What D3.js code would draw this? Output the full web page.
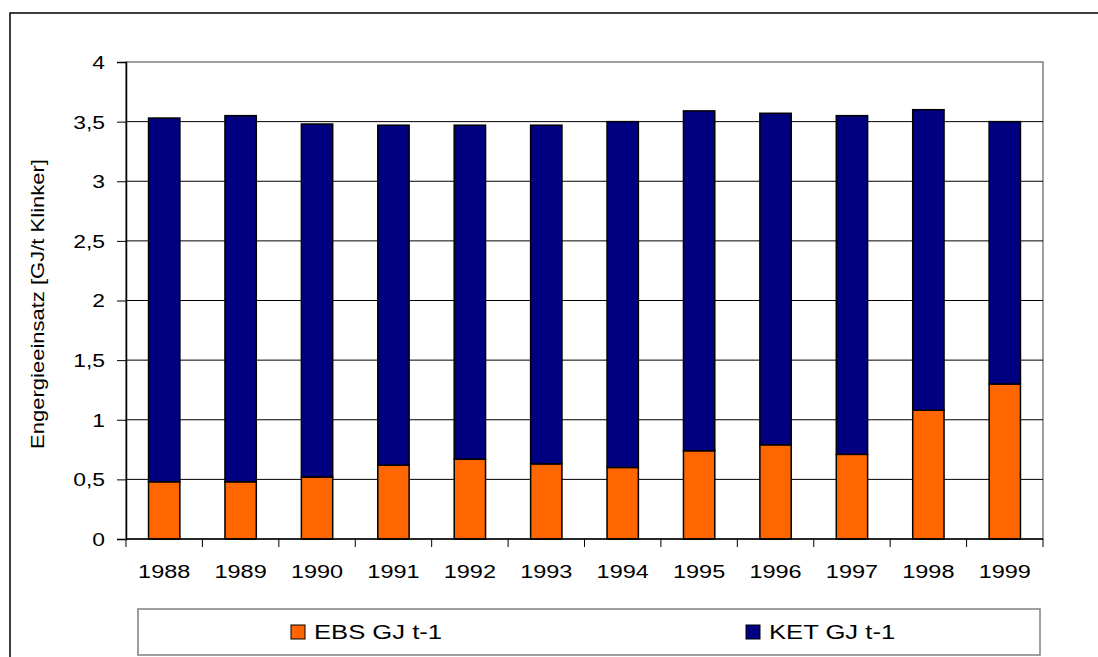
<!DOCTYPE html>
<html>
<head>
<meta charset="utf-8">
<script src="https://cdn.jsdelivr.net/npm/d3@7"></script>
<style>
  body { margin: 0; background: #fff; }
  svg text { font-family: "Liberation Sans", Arial, sans-serif; fill: #000; }
</style>
</head>
<body>
<div id="chart"></div>
<script>
// values (GJ per t clinker)
var years = ["1988","1989","1990","1991","1992","1993","1994","1995","1996","1997","1998","1999"];
var ebs = [0.48, 0.48, 0.52, 0.62, 0.67, 0.63, 0.60, 0.74, 0.79, 0.71, 1.08, 1.30];
var ket = [3.05, 3.07, 2.96, 2.85, 2.80, 2.84, 2.90, 2.85, 2.78, 2.84, 2.52, 2.20];
var yTicks = [0, 0.5, 1, 1.5, 2, 2.5, 3, 3.5, 4];
var seriesNames = ["EBS GJ t-1", "KET GJ t-1"];
var colors = ["#ff6600", "#000080"];

var width = 1098, height = 657;
var plot = {left: 126, right: 1043, top: 62, bottom: 539};
// the original text is drawn a bit wider than Arial, stretch it horizontally
var stretch = 1.27;

var svg = d3.select("#chart").append("svg")
    .attr("width", width)
    .attr("height", height);

// outer frame (runs off the right/bottom edge)
svg.append("rect")
   .attr("x", 10).attr("y", 13)
   .attr("width", width + 20).attr("height", height + 20)
   .attr("fill", "#fff").attr("stroke", "#000").attr("stroke-width", 1.5);

var x = d3.scaleBand()
    .domain(years)
    .range([plot.left, plot.right])
    .paddingInner(0.59)
    .paddingOuter(0.295);

var xTicks = d3.scaleBand().domain(years).range([plot.left, plot.right]);

var y = d3.scaleLinear()
    .domain([0, 4])
    .range([plot.bottom, plot.top]);

// plot area border (gray)
svg.append("rect")
   .attr("x", plot.left).attr("y", plot.top)
   .attr("width", plot.right - plot.left).attr("height", plot.bottom - plot.top)
   .attr("fill", "none").attr("stroke", "#808080").attr("stroke-width", 1.5);

// gridlines
svg.append("g")
   .selectAll("line")
   .data(yTicks.filter(function(d) { return d > 0 && d < 4; }))
   .enter().append("line")
   .attr("x1", plot.left).attr("x2", plot.right)
   .attr("y1", function(d) { return y(d); })
   .attr("y2", function(d) { return y(d); })
   .attr("stroke", "#000").attr("stroke-width", 1);

// stacked bars
var rows = years.map(function(yr, i) { return {year: yr, ebs: ebs[i], ket: ket[i]}; });
var stack = d3.stack().keys(["ebs", "ket"])(rows);

svg.append("g")
   .selectAll("g")
   .data(stack)
   .enter().append("g")
   .attr("fill", function(d, i) { return colors[i]; })
   .selectAll("rect")
   .data(function(d) { return d; })
   .enter().append("rect")
   .attr("x", function(d) { return x(d.data.year); })
   .attr("width", x.bandwidth())
   .attr("y", function(d) { return y(d[1]); })
   .attr("height", function(d) { return y(d[0]) - y(d[1]); })
   .attr("stroke", "#000").attr("stroke-width", 1.5);

// y axis
var yAxis = svg.append("g")
   .attr("transform", "translate(" + plot.left + ",0)")
   .call(d3.axisLeft(y).tickValues(yTicks).tickSize(9)
        .tickFormat(function(d) { return String(d).replace(".", ","); }));
yAxis.select(".domain").attr("stroke", "#000").attr("stroke-width", 1.5);
yAxis.selectAll(".tick line").attr("stroke", "#000");
yAxis.selectAll("text")
   .attr("font-size", null)
   .style("font-size", "18px")
   .attr("fill", "#000")
   .attr("x", -21 / stretch)
   .attr("dy", "0.36em")
   .attr("transform", "scale(" + stretch + ",1)");

// x axis
var xAxis = svg.append("g")
   .attr("transform", "translate(0," + plot.bottom + ")");
xAxis.append("line")
   .attr("x1", plot.left).attr("x2", plot.right)
   .attr("stroke", "#000").attr("stroke-width", 1.5);
xAxis.selectAll(".xt")
   .data(years.concat(["end"]))
   .enter().append("line")
   .attr("x1", function(d, i) { return plot.left + i * xTicks.bandwidth(); })
   .attr("x2", function(d, i) { return plot.left + i * xTicks.bandwidth(); })
   .attr("y1", 0).attr("y2", 8)
   .attr("stroke", "#000");
xAxis.selectAll("text")
   .data(years)
   .enter().append("text")
   .attr("transform", function(d) {
     return "translate(" + (xTicks(d) + xTicks.bandwidth() / 2) + ",39) scale(" + stretch + ",1)";
   })
   .attr("text-anchor", "middle")
   .style("font-size", "18.5px")
   .text(function(d) { return d; });

// y title
svg.append("text")
   .attr("transform", "translate(44,304) rotate(-90) scale(1.19,1)")
   .attr("text-anchor", "middle")
   .style("font-size", "18.5px")
   .text("Engergieeinsatz [GJ/t Klinker]");

// legend
var legend = svg.append("g");
legend.append("rect")
   .attr("x", 138).attr("y", 609)
   .attr("width", 902).attr("height", 46)
   .attr("fill", "#fff").attr("stroke", "#808080").attr("stroke-width", 1.5);
var legX = [291, 746];
var items = legend.selectAll("g.item")
   .data(seriesNames)
   .enter().append("g")
   .attr("transform", function(d, i) { return "translate(" + legX[i] + ",625)"; });
items.append("rect")
   .attr("width", 14).attr("height", 14)
   .attr("fill", function(d, i) { return colors[i]; })
   .attr("stroke", "#000").attr("stroke-width", 1);
items.append("text")
   .attr("transform", "translate(23,14) scale(1.25,1)")
   .style("font-size", "20.5px")
   .text(function(d) { return d; });
</script>
</body>
</html>
